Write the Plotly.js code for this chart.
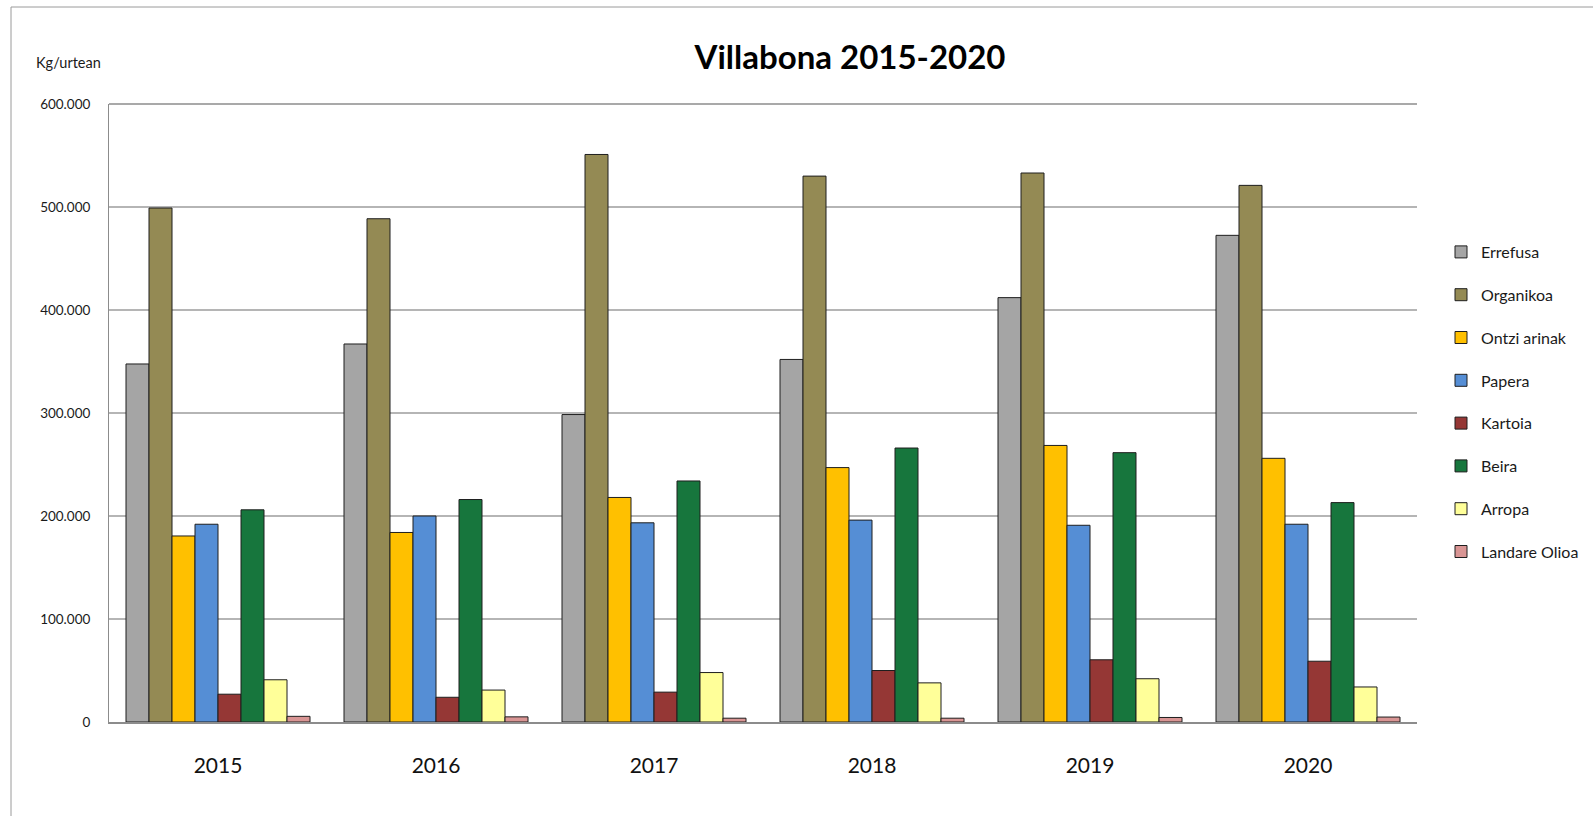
<!DOCTYPE html>
<html>
<head>
<meta charset="utf-8">
<script src="https://cdn.plot.ly/plotly-3.0.1.min.js"></script>
<style>
  html, body { margin: 0; padding: 0; background: #ffffff; }
  #chart { width: 1593px; height: 816px; }
</style>
</head>
<body>
<div id="chart"></div>
<script>
// ---- Data (kg/year) ----
const years = ["2015", "2016", "2017", "2018", "2019", "2020"];

const errefusa    = [347600, 367000, 298500, 352000, 412000, 472500];
const organikoa   = [499000, 488600, 551000, 530000, 533000, 521000];
const ontziArinak = [180600, 184000, 218000, 247000, 268500, 256000];
const papera      = [192000, 200000, 193400, 196000, 191000, 192000];
const kartoia     = [27000, 24000, 29000, 50000, 60400, 59000];
const beira       = [206000, 216000, 234000, 266000, 261500, 213000];
const arropa      = [41000, 31000, 48000, 38000, 42000, 34000];
const landareOlioa = [5500, 5000, 3700, 3700, 4400, 4800];

const seriesNames = ["Errefusa", "Organikoa", "Ontzi arinak", "Papera", "Kartoia", "Beira", "Arropa", "Landare Olioa"];
const seriesValues = [errefusa, organikoa, ontziArinak, papera, kartoia, beira, arropa, landareOlioa];
const seriesColors = ["#A5A5A5", "#948A54", "#FFC000", "#558ED5", "#953735", "#17763D", "#FFFF99", "#D99594"];

const FONT = "Lato, 'Open Sans', sans-serif";

const traces = seriesNames.map((name, i) => ({
  type: "bar",
  name: name,
  x: years,
  y: seriesValues[i],
  legendgroup: "g" + i,
  marker: { color: seriesColors[i], line: { color: "#1e1e1e", width: 1 } },
  hovertemplate: name + " %{x}: %{y:,d}<extra></extra>"
}));

// plot area: x 109..1417, y 104..722
const L = 109, R = 1417, T = 104, B = 722, W = 1593, H = 816;
const px = v => (v - L) / (R - L);
const py = v => (B - v) / (B - T);

const layout = {
  width: W,
  height: H,
  margin: { l: L, r: W - R, t: T, b: H - B, pad: 0, autoexpand: false },
  paper_bgcolor: "#ffffff",
  plot_bgcolor: "#ffffff",
  separators: ",.",
  font: { family: FONT, color: "#1a1a1a", size: 13 },
  barmode: "group",
  bargap: 0.156,
  bargroupgap: 0,
  showlegend: true,
  legend: {
    x: px(1441), xanchor: "left",
    y: py(235), yanchor: "top",
    font: { family: FONT, size: 16, color: "#1a1a1a" },
    tracegroupgap: 19,
    bgcolor: "rgba(0,0,0,0)",
    borderwidth: 0,
    itemclick: false
  },
  xaxis: {
    type: "category",
    showgrid: false,
    showline: true,
    linecolor: "#8c8c8c",
    linewidth: 2,
    mirror: false,
    ticks: "",
    ticklabelstandoff: 24,
    tickfont: { family: FONT, size: 21, color: "#111111" },
    fixedrange: true
  },
  yaxis: {
    range: [0, 600000],
    tick0: 0,
    dtick: 100000,
    tickformat: ",d",
    showgrid: true,
    gridcolor: "#b5b5b5",
    gridwidth: 1.5,
    zeroline: false,
    showline: true,
    linecolor: "#8c8c8c",
    linewidth: 1,
    ticks: "",
    ticklabelstandoff: 15,
    tickfont: { family: FONT, size: 13.5, color: "#1a1a1a" },
    fixedrange: true
  },
  title: {
    text: "<b>Villabona 2015-2020</b>",
    font: { family: FONT, size: 33, color: "#000000" },
    x: 850 / W, xanchor: "center",
    y: 1 - 57 / H, yanchor: "middle"
  },
  annotations: [
    {
      text: "Kg/urtean",
      xref: "paper", yref: "paper",
      x: px(34), xanchor: "left",
      y: py(62), yanchor: "middle",
      showarrow: false,
      font: { family: FONT, size: 14.5, color: "#1a1a1a" }
    }
  ],
  shapes: [
    // top plot border line (600.000 level)
    {
      type: "line", xref: "paper", yref: "paper",
      x0: 0, x1: 1, y0: 1, y1: 1,
      line: { color: "#8c8c8c", width: 1.5 }, layer: "above"
    },
    // outer chart-area border
    {
      type: "rect", xref: "paper", yref: "paper",
      x0: px(11), x1: px(1610), y0: py(830), y1: py(7),
      line: { color: "#9a9a9a", width: 1 }, fillcolor: "rgba(0,0,0,0)", layer: "above"
    }
  ]
};

Plotly.newPlot("chart", traces, layout, { displayModeBar: false, staticPlot: false });
</script>
</body>
</html>
